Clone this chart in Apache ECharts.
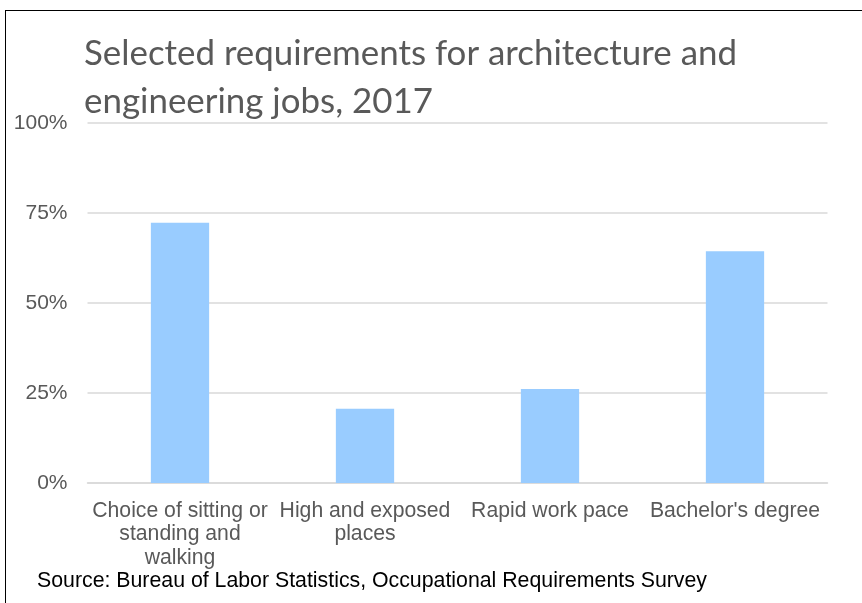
<!DOCTYPE html>
<html><head><meta charset="utf-8">
<script src="https://cdn.jsdelivr.net/npm/echarts@6/dist/echarts.min.js"></script>
<style>html,body{margin:0;padding:0;background:#fff}#c{width:862px;height:603px}
#frame{position:absolute;left:5px;top:10px;width:900px;height:700px;border:1.5px solid #000;pointer-events:none}</style>
</head><body><div id="c"></div><div id="frame"></div>
<script>
const categories = ["Choice of sitting or\nstanding and\nwalking", "High and exposed\nplaces", "Rapid work pace", "Bachelor's degree"];
const values = [72.3, 20.6, 26.1, 64.4];
const yTicks = [0, 25, 50, 75, 100];

const chart = echarts.init(document.getElementById('c'));
chart.setOption({
  animation: false,
  title: [{
    text: "Selected requirements for architecture and\nengineering jobs, 2017",
    left: 84, top: 30, padding: 0,
    textStyle: {fontFamily: "Lato", fontWeight: "normal", fontSize: 34.9, color: "#595959", lineHeight: 48}
  }, {
    text: "Source: Bureau of Labor Statistics, Occupational Requirements Survey",
    left: 37, top: 569, padding: 0,
    textStyle: {fontFamily: "Liberation Sans", fontWeight: "normal", fontSize: 21.3, color: "#000", lineHeight: 24}
  }],
  grid: {left: 87.5, right: 34.5, top: 123, bottom: 120, containLabel: false},
  xAxis: {
    type: 'category', data: categories,
    axisLine: {show: true, lineStyle: {color: '#d9d9d9', width: 1.5}},
    axisTick: {show: false},
    axisLabel: {interval: 0, fontFamily: "Liberation Sans", fontSize: 21.2, color: "#595959", lineHeight: 23.5, margin: 16}
  },
  yAxis: {
    type: 'value', min: 0, max: 100, interval: 25,
    axisLabel: {formatter: v => yTicks.includes(v) ? v + '%' : '', fontFamily: "Liberation Sans", fontSize: 21, color: "#595959", margin: 20},
    splitLine: {lineStyle: {color: '#d9d9d9', width: 1.5}},
    axisLine: {show: false}, axisTick: {show: false}
  },
  series: [{
    type: 'bar', data: values, barWidth: '31.5%',
    itemStyle: {color: '#99ccff'}
  }]
});
</script></body></html>
